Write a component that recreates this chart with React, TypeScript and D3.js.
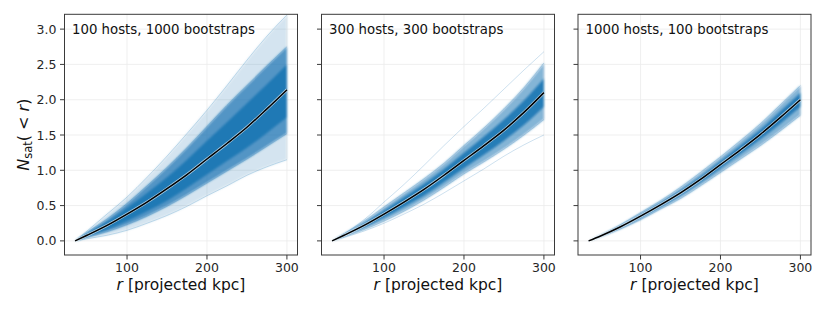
import React from "react";
import * as d3 from "d3";

// radii (projected kpc) at which values were read
const radii = [35, 50, 75, 100, 125, 150, 175, 200, 225, 250, 275, 300];

// Panel 1: 100 hosts, 1000 bootstraps
const p1Mean = [0, 0.08, 0.22, 0.38, 0.55, 0.74, 0.94, 1.16, 1.38, 1.61, 1.87, 2.14];
const p1OuterHi = [0, 0.14, 0.38, 0.62, 0.9, 1.2, 1.52, 1.85, 2.2, 2.56, 2.9, 3.2];
const p1MidHi = [0, 0.12, 0.31, 0.53, 0.78, 1.04, 1.32, 1.62, 1.92, 2.2, 2.48, 2.75];
const p1CoreHi = [0, 0.11, 0.27, 0.47, 0.68, 0.9, 1.15, 1.42, 1.68, 1.95, 2.22, 2.5];
const p1CoreLo = [0, 0.06, 0.16, 0.28, 0.42, 0.57, 0.75, 0.94, 1.13, 1.32, 1.53, 1.75];
const p1MidLo = [0, 0.05, 0.13, 0.23, 0.35, 0.49, 0.65, 0.82, 0.99, 1.16, 1.34, 1.52];
const p1OuterLo = [0, 0.03, 0.08, 0.15, 0.25, 0.36, 0.49, 0.64, 0.78, 0.93, 1.05, 1.15];

// Panel 2: 300 hosts, 300 bootstraps
const p2Mean = [0, 0.08, 0.22, 0.38, 0.55, 0.73, 0.93, 1.14, 1.35, 1.57, 1.82, 2.1];
const p2OutlierHi = [0, 0.1, 0.3, 0.55, 0.8, 1.07, 1.35, 1.62, 1.88, 2.15, 2.42, 2.68];
const p2MidHi = [0, 0.1, 0.28, 0.48, 0.68, 0.88, 1.1, 1.35, 1.6, 1.87, 2.17, 2.52];
const p2CoreHi = [0, 0.09, 0.25, 0.43, 0.62, 0.81, 1.02, 1.25, 1.48, 1.72, 1.99, 2.3];
const p2CoreLo = [0, 0.07, 0.19, 0.33, 0.48, 0.64, 0.83, 1.03, 1.22, 1.42, 1.64, 1.9];
const p2MidLo = [0, 0.06, 0.16, 0.28, 0.42, 0.58, 0.76, 0.95, 1.12, 1.3, 1.5, 1.72];
const p2OutlierLo = [0, 0.05, 0.14, 0.25, 0.38, 0.52, 0.68, 0.85, 1.02, 1.2, 1.36, 1.5];

// Panel 3: 1000 hosts, 100 bootstraps
const p3Mean = [0, 0.07, 0.2, 0.35, 0.51, 0.68, 0.87, 1.08, 1.29, 1.51, 1.75, 2.0];
const p3OuterHi = [0, 0.08, 0.23, 0.4, 0.57, 0.76, 0.97, 1.19, 1.42, 1.66, 1.93, 2.2];
const p3CoreHi = [0, 0.075, 0.215, 0.375, 0.54, 0.715, 0.91, 1.13, 1.35, 1.58, 1.84, 2.1];
const p3CoreLo = [0, 0.065, 0.185, 0.325, 0.48, 0.645, 0.83, 1.03, 1.23, 1.44, 1.66, 1.9];
const p3OuterLo = [0, 0.06, 0.17, 0.3, 0.45, 0.6, 0.78, 0.97, 1.16, 1.35, 1.56, 1.78];

const panelTitles = ["100 hosts, 1000 bootstraps", "300 hosts, 300 bootstraps", "1000 hosts, 100 bootstraps"];
const xTicks = [100, 200, 300];
const yTicks = [0, 0.5, 1.0, 1.5, 2.0, 2.5, 3.0];

type Band = { lo: number[]; hi: number[]; op: number };
type Panel = { title: string; mean: number[]; bands: Band[]; lines: number[][] };

const panels: Panel[] = [
  {
    title: panelTitles[0],
    mean: p1Mean,
    bands: [
      { lo: p1OuterLo, hi: p1OuterHi, op: 0.2 },
      { lo: p1MidLo, hi: p1MidHi, op: 0.72 },
      { lo: p1CoreLo, hi: p1CoreHi, op: 0.95 },
    ],
    lines: [p1OuterHi, p1OuterLo, p1MidHi, p1MidLo],
  },
  {
    title: panelTitles[1],
    mean: p2Mean,
    bands: [
      { lo: p2MidLo, hi: p2MidHi, op: 0.55 },
      { lo: p2CoreLo, hi: p2CoreHi, op: 0.92 },
    ],
    lines: [p2OutlierHi, p2OutlierLo, p2MidHi, p2MidLo],
  },
  {
    title: panelTitles[2],
    mean: p3Mean,
    bands: [
      { lo: p3OuterLo, hi: p3OuterHi, op: 0.55 },
      { lo: p3CoreLo, hi: p3CoreHi, op: 0.9 },
    ],
    lines: [p3OuterHi, p3OuterLo],
  },
];

const W = 830;
const H = 312;
const panelLefts = [64.5, 321.5, 578];
const panelW = 233;
const top = 14.3;
const bottom = 255;
const C0 = "#1f77b4";
const font = "DejaVu Sans, sans-serif";

function PanelView({ p, left, idx }: { p: Panel; left: number; idx: number }) {
  const x = d3.scaleLinear().domain([21.75, 313.25]).range([left, left + panelW]);
  const y = d3.scaleLinear().domain([-0.2, 3.21]).range([bottom, top]);
  const bandPath = (b: Band) =>
    d3
      .area<number>()
      .x((_, i) => x(radii[i]))
      .y0((_, i) => y(b.lo[i]))
      .y1((_, i) => y(b.hi[i]))
      .curve(d3.curveMonotoneX)(radii) || "";
  const line = d3
    .line<number>()
    .x((_, i) => x(radii[i]))
    .y((v) => y(v))
    .curve(d3.curveMonotoneX);
  const clipId = `clip${idx}`;
  const blurId = `soft${idx}`;
  return (
    <g>
      <defs>
        <clipPath id={clipId}>
          <rect x={left} y={top} width={panelW} height={bottom - top} />
        </clipPath>
        <filter id={blurId} x="-5%" y="-5%" width="110%" height="110%">
          <feGaussianBlur stdDeviation={1.1} />
        </filter>
      </defs>
      {xTicks.map((t) => (
        <line key={"gx" + t} x1={x(t)} x2={x(t)} y1={top} y2={bottom} stroke="#ebebeb" strokeWidth={0.8} />
      ))}
      {yTicks.map((t) => (
        <line key={"gy" + t} x1={left} x2={left + panelW} y1={y(t)} y2={y(t)} stroke="#ebebeb" strokeWidth={0.8} />
      ))}
      <g clipPath={`url(#${clipId})`}>
        <g filter={`url(#${blurId})`}>
          {p.bands.map((b, i) => (
            <path key={"b" + i} d={bandPath(b)} fill={C0} fillOpacity={b.op} stroke="none" />
          ))}
        </g>
        {p.lines.map((l, i) => (
          <path key={"l" + i} d={line(l) || ""} fill="none" stroke={C0} strokeOpacity={0.22} strokeWidth={1} />
        ))}
        <path d={line(p.mean) || ""} fill="none" stroke="#ffffff" strokeOpacity={0.6} strokeWidth={3} />
        <path d={line(p.mean) || ""} fill="none" stroke="#000000" strokeWidth={1.5} />
      </g>
      <rect x={left} y={top} width={panelW} height={bottom - top} fill="none" stroke="#3a3a3a" strokeWidth={1} />
      {xTicks.map((t) => (
        <g key={"xt" + t}>
          <line x1={x(t)} x2={x(t)} y1={bottom} y2={bottom + 4.5} stroke="#3a3a3a" strokeWidth={1} />
          <text x={x(t)} y={272} textAnchor="middle" fontSize={12.5} fontFamily={font} fill="#262626">
            {t}
          </text>
        </g>
      ))}
      {yTicks.map((t) => (
        <g key={"yt" + t}>
          <line x1={left - 4.5} x2={left} y1={y(t)} y2={y(t)} stroke="#3a3a3a" strokeWidth={1} />
          {idx === 0 && (
            <text x={left - 8} y={y(t) + 4.5} textAnchor="end" fontSize={12.5} fontFamily={font} fill="#262626">
              {t.toFixed(1)}
            </text>
          )}
        </g>
      ))}
      <text x={left + 7.5} y={34.3} fontSize={13.3} fontFamily={font} fill="#111">
        {p.title}
      </text>
      <text x={left + panelW / 2} y={290} textAnchor="middle" fontSize={15.5} fontFamily={font} fill="#111">
        <tspan fontStyle="italic">r</tspan> [projected kpc]
      </text>
    </g>
  );
}

export default function App() {
  return (
    <svg width={W} height={H} style={{ position: "absolute", left: 0, top: 0, background: "#fff" }}>
      <rect width={W} height={H} fill="#fff" />
      {panels.map((p, i) => (
        <PanelView key={i} p={p} left={panelLefts[i]} idx={i} />
      ))}
      <text transform="translate(28.5,134.7) rotate(-90)" textAnchor="middle" fontSize={16} fontFamily={font} fill="#111">
        <tspan fontStyle="italic">N</tspan>
        <tspan fontSize={11.5} dy={3}>sat</tspan>
        <tspan dy={-3}>(</tspan>
        <tspan> &lt; </tspan>
        <tspan fontStyle="italic">r</tspan>
        <tspan>)</tspan>
      </text>
    </svg>
  );
}
